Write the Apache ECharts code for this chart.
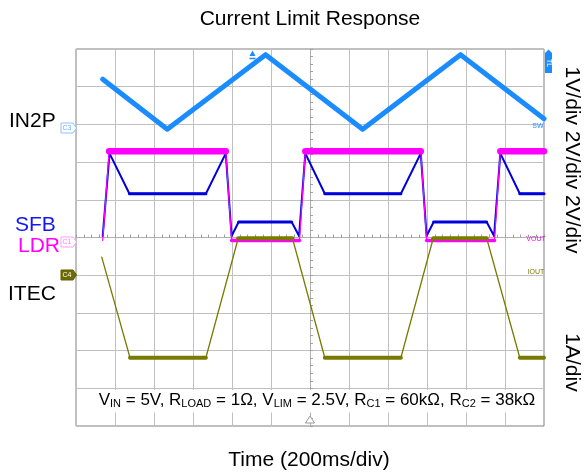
<!DOCTYPE html>
<html>
<head>
<meta charset="utf-8">
<script src="https://cdn.jsdelivr.net/npm/echarts@6/dist/echarts.min.js"></script>
<style>
html,body{margin:0;padding:0;background:#fff;}
#chart{width:584px;height:474px;}
</style>
</head>
<body>
<div id="chart"></div>
<script>
// Time in ms relative to the trigger (centre of screen), values in screen divisions relative to centre
const timeIN2P = [-1063, -732, -228, 270, 772, 1200];
const valIN2P  = [4.2, 2.87, 4.85, 2.87, 4.85, 3.15];

const timeLDR = [-1063, -1030, -432, -402, -54, -24, 568, 598, 946, 976, 1200];
const valLDR  = [-0.08, 2.29, 2.29, -0.08, -0.08, 2.29, 2.29, -0.08, -0.08, 2.29, 2.29];

const timeSFB = [-1063, -1028, -926, -534, -432, -402, -366, -94, -56, -24, 76, 466, 568, 598, 634, 906, 944, 976, 1076, 1200];
const valSFB  = [0.04, 2.23, 1.16, 1.16, 2.23, 0.04, 0.41, 0.41, 0.04, 2.23, 1.16, 1.16, 2.23, 0.04, 0.41, 0.41, 0.04, 2.23, 1.16, 1.16];

const timeITEC = [-1068, -923, -534, -368, -90, 76, 466, 632, 906, 1076, 1200];
const valITEC  = [-0.52, -3.19, -3.19, -0.02, -0.02, -3.19, -3.19, -0.02, -0.02, -3.19, -3.19];

const titleText = 'Current Limit Response';
const xLabel = 'Time (200ms/div)';
const scaleTop = '1V/div 2V/div 2V/div';
const scaleBottom = '1A/div';

const FONT = '"Liberation Sans", Arial, sans-serif';
const C_IN2P = '#1a8cff', C_LDR = '#ff00ff', C_SFB = '#0000dd', C_ITEC = '#7a7a00';

function zip(t, v) { return t.map((x, i) => [x, v[i]]); }
function line(data, color, width) {
  return { type: 'line', data, symbol: 'none', silent: true, animation: false,
           lineStyle: { color, width, join: 'round', cap: 'round' } };
}
function flatBands(t, v, color, widthFn) {
  const out = [];
  for (let i = 0; i < t.length - 1; i++) {
    if (Math.abs(v[i + 1] - v[i]) < 0.05) {
      out.push(line([[t[i], v[i]], [t[i + 1], v[i + 1]]], color, widthFn(v[i])));
    }
  }
  return out;
}

const series = [].concat(
  [line(zip(timeSFB, valSFB), C_SFB, 2)],
  flatBands(timeSFB, valSFB, C_SFB, v => 3),
  [line(zip(timeLDR, valLDR), C_LDR, 1.2)],
  flatBands(timeLDR, valLDR, C_LDR, v => v > 1 ? 6.5 : 3.5),
  [line(zip(timeITEC, valITEC), C_ITEC, 1.3)],
  flatBands(timeITEC, valITEC, C_ITEC, v => 4),
  [line(zip(timeIN2P, valIN2P), C_IN2P, 5)]
);

function txt(x, y, text, size, color, align, rot) {
  return { type: 'text', x, y, rotation: rot || 0, z: 120,
           style: { text, fill: color, font: size + 'px ' + FONT, textAlign: align || 'center', textVerticalAlign: 'middle' } };
}
function tag(yc, stroke, fill, label, labelColor) {
  return [
    { type: 'polygon', z: 110, shape: { points: [[61, yc - 5], [73, yc - 5], [76.5, yc], [73, yc + 5], [61, yc + 5]] },
      style: { fill, stroke, lineWidth: 1 } },
    { type: 'text', x: 67, y: yc, z: 111, style: { text: label, fill: labelColor, font: '7px ' + FONT, textAlign: 'center', textVerticalAlign: 'middle' } }
  ];
}

const graphics = [].concat(
  [
    { type: 'rect', z: 100, shape: { x: 77, y: 390, width: 466, height: 22.5 }, style: { fill: '#fff' } },
    txt(310, 19, titleText, 21, '#000'),
    txt(309, 460, xLabel, 21, '#000'),
    txt(571.5, 160, scaleTop, 21, '#000', 'center', -Math.PI / 2),
    txt(571.5, 362.5, scaleBottom, 21, '#000', 'center', -Math.PI / 2),
    txt(9, 121.5, 'IN2P', 21, '#000', 'left'),
    txt(15, 225.5, 'SFB', 21, '#1414ff', 'left'),
    txt(18, 246.5, 'LDR', 21, '#ff00ff', 'left'),
    txt(8, 294, 'ITEC', 21, '#000', 'left'),
    { type: 'text', x: 317, y: 400, z: 120,
      style: { text: '{m|V}{s|IN}{m| = 5V, R}{s|LOAD}{m| = 1Ω, V}{s|LIM}{m| = 2.5V, R}{s|C1}{m| = 60kΩ, R}{s|C2}{m| = 38kΩ}',
               textAlign: 'center', textVerticalAlign: 'middle', fill: '#000',
               rich: { m: { fontSize: 17, fontFamily: FONT, fill: '#000', verticalAlign: 'bottom' },
                       s: { fontSize: 11, fontFamily: FONT, fill: '#000', verticalAlign: 'bottom', padding: [0, 0, -1, 0] } } } },
    // small trace labels inside the grid
    txt(538, 126, 'SW', 7, C_IN2P),
    txt(536, 239, 'VOUT', 7, C_LDR),
    txt(536, 272, 'IOUT', 7, C_ITEC),
    // TL tag on the right
    { type: 'polygon', z: 110, shape: { points: [[545, 53], [548.5, 49.5], [552, 53], [552, 73], [545, 73]] }, style: { fill: C_IN2P } },
    txt(548.5, 63, 'TL', 7, '#fff', 'center', -Math.PI / 2),
    // trigger marker at top
    { type: 'polygon', z: 110, shape: { points: [[249.5, 56], [252.5, 50.5], [255.5, 56]] }, style: { fill: C_IN2P } },
    { type: 'line', z: 110, shape: { x1: 249.5, y1: 58.5, x2: 255.5, y2: 58.5 }, style: { stroke: C_IN2P, lineWidth: 1.5 } },
    // bottom time-reference triangle
    { type: 'polygon', z: 110, shape: { points: [[310, 416], [314.5, 423], [305.5, 423]] }, style: { fill: '#fff', stroke: '#999', lineWidth: 1 } }
  ],
  tag(128, '#8cc4ff', '#fff', 'C3', '#6aaeff'),
  tag(242, '#ff9cff', '#fff', 'C1', '#ff7cff'),
  tag(275, '#5e5e00', '#6b6b00', 'C4', '#fff')
);

const chart = echarts.init(document.getElementById('chart'), null, { renderer: 'canvas' });
chart.setOption({
  animation: false,
  backgroundColor: '#fff',
  grid: { left: 76, top: 49, width: 468, height: 377, show: true, borderColor: '#808080', borderWidth: 1, backgroundColor: 'transparent' },
  xAxis: {
    type: 'value', min: -1200, max: 1200, interval: 200,
    axisLabel: { show: false },
    axisLine: { show: true, onZero: true, lineStyle: { color: '#b0b0b0', width: 1 } },
    axisTick: { show: true, length: 3, inside: true, lineStyle: { color: '#a0a0a0' } },
    minorTick: { show: true, splitNumber: 5, length: 3, lineStyle: { color: '#a0a0a0' } },
    splitLine: { show: true, lineStyle: { color: '#c0c0c0', width: 1 } }
  },
  yAxis: {
    type: 'value', min: -5, max: 5, interval: 1,
    axisLabel: { show: false },
    axisLine: { show: true, onZero: true, lineStyle: { color: '#b0b0b0', width: 1 } },
    axisTick: { show: true, length: 3, inside: true, lineStyle: { color: '#a0a0a0' } },
    minorTick: { show: true, splitNumber: 5, length: 3, lineStyle: { color: '#a0a0a0' } },
    splitLine: { show: true, lineStyle: { color: '#c0c0c0', width: 1 } }
  },
  series,
  graphic: graphics
});
</script>
</body>
</html>
